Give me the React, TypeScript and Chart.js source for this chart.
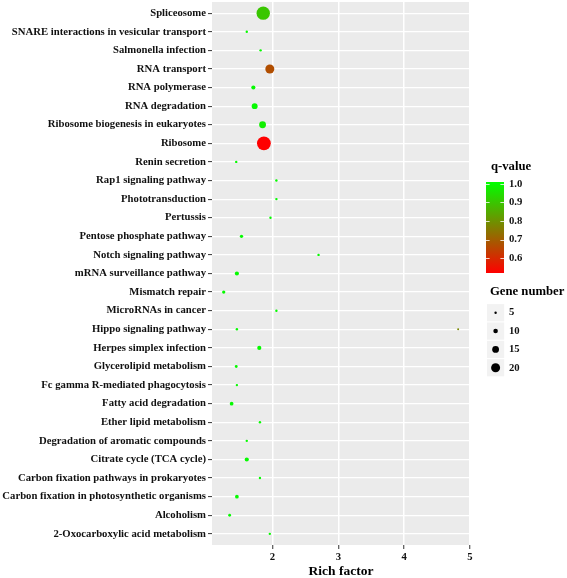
import React, { useEffect, useRef } from "react";
import { Chart, registerables } from "chart.js";

Chart.register(...registerables);

const categories = [
  "Spliceosome",
  "SNARE interactions in vesicular transport",
  "Salmonella infection",
  "RNA transport",
  "RNA polymerase",
  "RNA degradation",
  "Ribosome biogenesis in eukaryotes",
  "Ribosome",
  "Renin secretion",
  "Rap1 signaling pathway",
  "Phototransduction",
  "Pertussis",
  "Pentose phosphate pathway",
  "Notch signaling pathway",
  "mRNA surveillance pathway",
  "Mismatch repair",
  "MicroRNAs in cancer",
  "Hippo signaling pathway",
  "Herpes simplex infection",
  "Glycerolipid metabolism",
  "Fc gamma R-mediated phagocytosis",
  "Fatty acid degradation",
  "Ether lipid metabolism",
  "Degradation of aromatic compounds",
  "Citrate cycle (TCA cycle)",
  "Carbon fixation pathways in prokaryotes",
  "Carbon fixation in photosynthetic organisms",
  "Alcoholism",
  "2-Oxocarboxylic acid metabolism",
];

const richFactor = [
  1.86, 1.61, 1.82, 1.96, 1.71, 1.73, 1.85, 1.87, 1.45, 2.06,
  2.06, 1.97, 1.53, 2.7, 1.46, 1.26, 2.06, 1.46, 1.8, 1.45,
  1.46, 1.38, 1.81, 1.61, 1.61, 1.81, 1.46, 1.35, 1.96,
];

const geneNumber = [
  30, 5, 5, 20, 9, 13, 15, 31, 5, 5,
  5, 5, 7, 5, 9, 7, 5, 5, 9, 6,
  5, 8, 5, 5, 9, 5, 8, 6, 5,
];

const qValue = [
  0.9, 1.0, 1.0, 0.67, 1.0, 1.0, 0.98, 0.52, 1.0, 1.0,
  1.0, 1.0, 1.0, 1.0, 1.0, 1.0, 1.0, 1.0, 1.0, 1.0,
  1.0, 1.0, 1.0, 1.0, 1.0, 1.0, 1.0, 1.0, 1.0,
];

// extra point seen on the Hippo signaling pathway row
const extraRow = [17];
const extraRichFactor = [4.82];
const extraGeneNumber = [4];
const extraQValue = [0.78];

const xTicks = [2, 3, 4, 5];
const qTicks = [1.0, 0.9, 0.8, 0.7, 0.6];
const sizeKeys = [5, 10, 15, 20];

const FONT = "'Liberation Serif', 'Times New Roman', serif";
const Q_MIN = 0.52;
const Q_MAX = 1.01;

function qColor(q: number): string {
  let t = (q - Q_MIN) / (Q_MAX - Q_MIN);
  t = Math.max(0, Math.min(1, t));
  const r = Math.round(255 * (1 - t));
  const g = Math.round(255 * t);
  return `rgb(${r},${g},0)`;
}

function radius(n: number): number {
  return Math.max(0.9, 0.22 * n + 0.1);
}

const panelPlugin = {
  id: "panelBg",
  beforeDraw(chart: any) {
    const { ctx, chartArea } = chart;
    ctx.save();
    ctx.fillStyle = "#EBEBEB";
    ctx.fillRect(chartArea.left, chartArea.top, chartArea.right - chartArea.left, chartArea.bottom - chartArea.top);
    ctx.restore();
  },
};

const legendPlugin = {
  id: "customLegend",
  afterDraw(chart: any) {
    const ctx = chart.ctx;
    ctx.save();
    // q-value colourbar
    ctx.fillStyle = "#000";
    ctx.textAlign = "left";
    ctx.textBaseline = "middle";
    ctx.font = `bold 12.7px ${FONT}`;
    ctx.fillText("q-value", 491, 167);

    const x0 = 486;
    const x1 = 504;
    const yTop = 182;
    const yBot = 273;
    const grad = ctx.createLinearGradient(0, yTop, 0, yBot);
    grad.addColorStop(0, qColor(Q_MAX));
    grad.addColorStop(1, qColor(Q_MIN));
    ctx.fillStyle = grad;
    ctx.fillRect(x0, yTop, x1 - x0, yBot - yTop);

    const qy = (q: number) => yTop + ((Q_MAX - q) / (Q_MAX - Q_MIN)) * (yBot - yTop);
    ctx.strokeStyle = "rgba(255,255,255,0.8)";
    ctx.lineWidth = 1;
    ctx.font = `bold 10.7px ${FONT}`;
    qTicks.forEach((q) => {
      const y = Math.round(qy(q)) + 0.5;
      ctx.beginPath();
      ctx.moveTo(x0, y);
      ctx.lineTo(x0 + 3.6, y);
      ctx.moveTo(x1 - 3.6, y);
      ctx.lineTo(x1, y);
      ctx.stroke();
      ctx.fillStyle = "#111";
      ctx.fillText(q.toFixed(1), 509, qy(q));
    });

    // Gene number size legend
    ctx.fillStyle = "#000";
    ctx.font = `bold 12.7px ${FONT}`;
    ctx.fillText("Gene number", 490, 292);
    ctx.font = `bold 10.7px ${FONT}`;
    sizeKeys.forEach((n, i) => {
      const cy = 312.7 + 18.35 * i;
      ctx.fillStyle = "#F2F2F2";
      ctx.fillRect(487, cy - 8.6, 17.2, 17.2);
      ctx.fillStyle = "#000";
      ctx.beginPath();
      ctx.arc(495.6, cy, radius(n), 0, Math.PI * 2);
      ctx.fill();
      ctx.fillStyle = "#111";
      ctx.fillText(String(n), 509, cy);
    });
    ctx.restore();
  },
};

export default function App() {
  const canvasRef = useRef<HTMLCanvasElement | null>(null);

  useEffect(() => {
    if (!canvasRef.current) return;
    const points = categories.map((c, i) => ({
      x: richFactor[i],
      y: i,
      n: geneNumber[i],
      q: qValue[i],
    }));
    extraRow.forEach((row, j) => {
      points.push({ x: extraRichFactor[j], y: row, n: extraGeneNumber[j], q: extraQValue[j] });
    });

    const chart = new Chart(canvasRef.current, {
      type: "scatter",
      data: {
        datasets: [
          {
            data: points as any,
            pointRadius: (c: any) => radius(c.raw ? c.raw.n : 5),
            pointBackgroundColor: (c: any) => qColor(c.raw ? c.raw.q : 1),
            pointBorderWidth: 0,
            pointBorderColor: "rgba(0,0,0,0)",
            pointHoverRadius: (c: any) => radius(c.raw ? c.raw.n : 5),
          },
        ],
      },
      options: {
        responsive: false,
        animation: false,
        events: [],
        layout: { autoPadding: false, padding: { left: 0, right: 97, top: 2, bottom: 0 } },
        plugins: {
          legend: { display: false },
          tooltip: { enabled: false },
        },
        scales: {
          x: {
            type: "linear",
            min: 1.082,
            max: 5.0,
            afterBuildTicks: (s: any) => {
              s.ticks = xTicks.map((v) => ({ value: v }));
            },
            afterFit: (s: any) => {
              s.height = 33;
              s.paddingLeft = 0;
              s.paddingRight = 0;
            },
            grid: {
              color: "#FFFFFF",
              lineWidth: 1.5,
              drawTicks: true,
              tickLength: 4,
              tickColor: "#333333",
              tickWidth: 1,
            },
            border: { display: false },
            ticks: {
              color: "#111",
              font: { family: FONT, weight: "bold", size: 10.7 },
              padding: 2,
              maxRotation: 0,
              autoSkip: false,
              callback: (v: any) => String(v),
            },
            title: {
              display: true,
              text: "Rich factor",
              color: "#000",
              font: { family: FONT, weight: "bold", size: 13.5, lineHeight: 1 },
              padding: { top: 0, bottom: 0 },
            },
          },
          y: {
            type: "linear",
            reverse: true,
            min: -0.6,
            max: 28.6,
            afterBuildTicks: (s: any) => {
              s.ticks = categories.map((_, i) => ({ value: i }));
            },
            afterFit: (s: any) => {
              s.width = 212;
              s.paddingTop = 0;
              s.paddingBottom = 0;
            },
            grid: {
              color: "#FFFFFF",
              lineWidth: 1.2,
              drawTicks: true,
              tickLength: 4,
              tickColor: "#333333",
              tickWidth: 1,
            },
            border: { display: false },
            ticks: {
              color: "#111",
              font: { family: FONT, weight: "bold", size: 10.7 },
              padding: 2,
              autoSkip: false,
              callback: (v: any) => categories[v as number] ?? "",
            },
          },
        },
      } as any,
      plugins: [panelPlugin, legendPlugin],
    });
    return () => chart.destroy();
  }, []);

  return (
    <div style={{ position: "absolute", left: 0, top: 0, width: 567, height: 578, background: "#fff" }}>
      <canvas ref={canvasRef} width={567} height={578} style={{ display: "block" }} />
    </div>
  );
}
